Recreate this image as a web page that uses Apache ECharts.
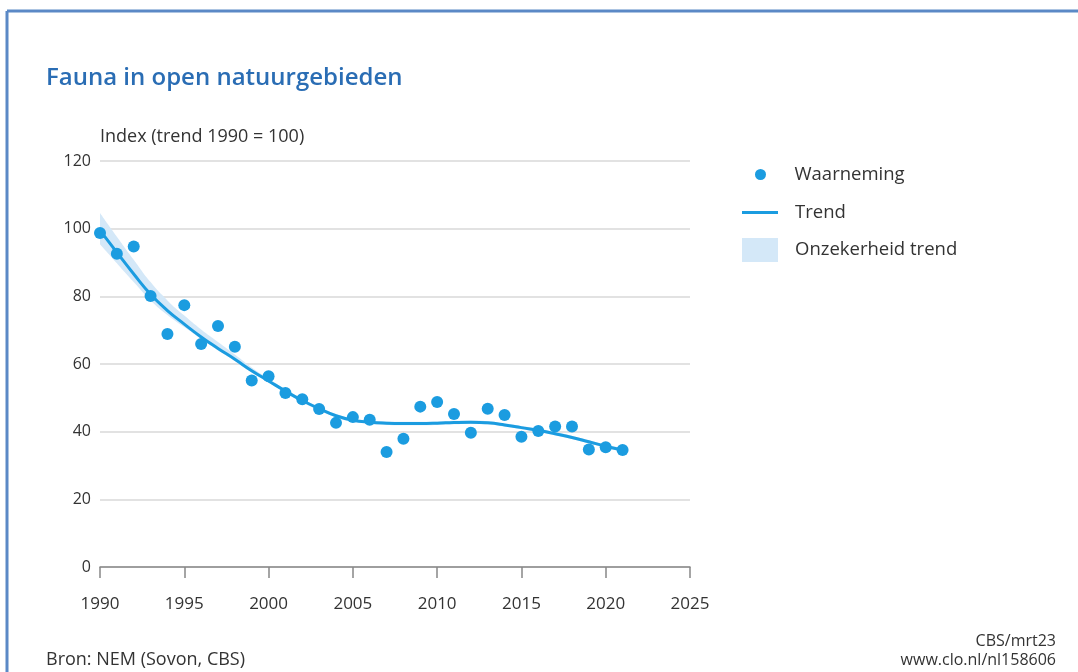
<!DOCTYPE html>
<html>
<head>
<meta charset="utf-8">
<script src="https://cdn.jsdelivr.net/npm/echarts@6/dist/echarts.min.js"></script>
<style>
  html, body { margin: 0; padding: 0; background: #fff; }
  #chart { width: 1078px; height: 672px; }
</style>
</head>
<body>
<div id="chart"></div>
<script>
// as: 1990 - 2025 (categorieën)
const axisYears = [];
for (let y = 1990; y <= 2025; y++) axisYears.push(String(y));

// waarnemingen (punten), 1990 - 2021
const observed = [98.7, 92.6, 94.7, 80.1, 68.9, 77.4, 65.9, 71.2, 65.1, 55.1, 56.4,
  51.4, 49.6, 46.7, 42.6, 44.3, 43.5, 34.0, 37.9, 47.4, 48.8,
  45.2, 39.7, 46.8, 44.9, 38.5, 40.2, 41.5, 41.5, 34.7, 35.4, 34.6];

// trendlijn
const trend = [99.5, 93.0, 86.6, 80.6, 75.8, 71.8, 68.0, 64.6, 61.4, 58.0, 55.0,
  52.0, 49.2, 46.8, 44.7, 43.4, 42.8, 42.5, 42.4, 42.4, 42.5,
  42.7, 42.8, 42.6, 42.0, 41.2, 40.4, 39.4, 38.3, 37.0, 35.7, 34.6];

// onzekerheid (onder- en bovengrens)
const lower = [95.4, 89.8, 84.2, 78.8, 74.5, 70.9, 67.4, 64.1, 60.9, 57.5, 54.5,
  51.5, 48.7, 46.3, 44.2, 42.9, 42.3, 42.0, 41.9, 41.9, 42.0,
  42.2, 42.3, 42.1, 41.5, 40.7, 39.9, 38.9, 37.8, 36.5, 35.2, 34.1];
const upper = [104.6, 97.6, 90.8, 84.2, 78.8, 74.3, 70.2, 66.5, 62.8, 59.0, 55.7,
  52.5, 49.7, 47.3, 45.2, 43.9, 43.3, 43.0, 42.9, 42.9, 43.0,
  43.2, 43.3, 43.1, 42.5, 41.7, 40.9, 39.9, 38.8, 37.5, 36.2, 35.1];

const blue = "#1b9ce0";
const bandColor = "#d4e8f8";
const textColor = "#333333";
const font = "Open Sans";

const chart = echarts.init(document.getElementById("chart"));

const legendBase = {
  orient: "vertical",
  padding: 0,
  itemWidth: 36,
  selectedMode: false,
  textStyle: { fontSize: 18.5, color: textColor, fontFamily: font },
};

const plainText = (text, pos, size) =>
  Object.assign({ text: text, padding: 0, textStyle: { fontSize: size, fontWeight: "normal", color: textColor, fontFamily: font } }, pos);

chart.setOption({
  animation: false,
  backgroundColor: "#ffffff",
  title: [
    {
      text: "Fauna in open natuurgebieden",
      left: 46,
      top: 66,
      padding: 0,
      textStyle: { fontSize: 24, fontWeight: 600, color: "#2a6db4", fontFamily: font },
    },
    plainText("Index (trend 1990 = 100)", { left: 100, top: 128 }, 18),
    plainText("Bron: NEM (Sovon, CBS)", { left: 46, top: 651 }, 18),
    plainText("CBS/mrt23", { right: 22, top: 633 }, 16),
    plainText("www.clo.nl/nl158606", { right: 22, top: 652 }, 16),
  ],
  graphic: [
    { type: "line", shape: { x1: 7, y1: 11, x2: 1078, y2: 11 }, style: { stroke: "#5b89c6", lineWidth: 3 } },
    { type: "line", shape: { x1: 7, y1: 11, x2: 7, y2: 672 }, style: { stroke: "#5b89c6", lineWidth: 3 } },
  ],
  legend: [
    Object.assign({}, legendBase, {
      left: 755,
      top: 165,
      itemHeight: 11,
      textStyle: Object.assign({}, legendBase.textStyle, { padding: [0, 0, 0, 11] }),
      data: [{ name: "Waarneming", icon: "circle", itemStyle: { color: blue } }],
    }),
    Object.assign({}, legendBase, {
      left: 742,
      top: 203,
      itemHeight: 3,
      textStyle: Object.assign({}, legendBase.textStyle, { padding: [0, 0, 0, 12] }),
      data: [{ name: "Trend", icon: "rect", itemStyle: { color: blue } }],
    }),
    Object.assign({}, legendBase, {
      left: 742,
      top: 238,
      itemHeight: 24,
      textStyle: Object.assign({}, legendBase.textStyle, { padding: [0, 0, 0, 12] }),
      data: [{ name: "Onzekerheid trend", icon: "rect", itemStyle: { color: bandColor } }],
    }),
  ],
  grid: { left: 100, right: 388, top: 161, bottom: 105, containLabel: false },
  xAxis: {
    type: "category",
    data: axisYears,
    boundaryGap: false,
    axisLine: { show: true, lineStyle: { color: "#888888", width: 1.5 } },
    axisTick: { show: true, interval: 4, length: 11, lineStyle: { color: "#888888", width: 1.5 } },
    axisLabel: {
      interval: 4,
      margin: 29,
      fontSize: 17,
      color: textColor,
      fontFamily: font,
    },
    splitLine: { show: false },
  },
  yAxis: {
    type: "value",
    min: 0,
    max: 120,
    interval: 20,
    axisLine: { show: false },
    axisTick: { show: false },
    axisLabel: { margin: 9, fontSize: 16, color: textColor, fontFamily: font },
    splitLine: { show: true, lineStyle: { color: "#d9d9d9", width: 1.5 } },
  },
  series: [
    {
      name: "band-onder",
      type: "line",
      stack: "band",
      data: lower,
      lineStyle: { opacity: 0 },
      areaStyle: { opacity: 0 },
      showSymbol: false,
      smooth: true,
      silent: true,
    },
    {
      name: "Onzekerheid trend",
      type: "line",
      stack: "band",
      data: upper.map((u, i) => +(u - lower[i]).toFixed(2)),
      lineStyle: { opacity: 0 },
      areaStyle: { color: bandColor, opacity: 1 },
      itemStyle: { color: bandColor },
      showSymbol: false,
      smooth: true,
      silent: true,
    },
    {
      name: "Trend",
      type: "line",
      data: trend,
      smooth: true,
      showSymbol: false,
      lineStyle: { color: blue, width: 3 },
      itemStyle: { color: blue },
      z: 3,
    },
    {
      name: "Waarneming",
      type: "scatter",
      data: observed,
      symbolSize: 12,
      itemStyle: { color: blue, opacity: 1 },
      z: 4,
    },
  ],
});
</script>
</body>
</html>
